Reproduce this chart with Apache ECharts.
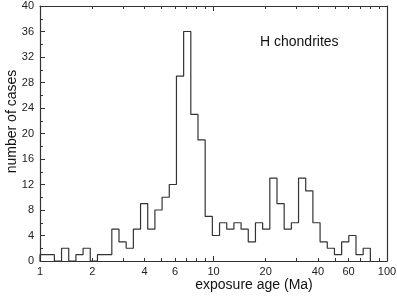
<!DOCTYPE html>
<html>
<head>
<meta charset="utf-8">
<script src="https://cdn.jsdelivr.net/npm/echarts@6/dist/echarts.min.js"></script>
<style>
  html, body { margin: 0; padding: 0; background: #fff; }
  #chart { width: 397px; height: 297px; }
</style>
</head>
<body>
<div id="chart"></div>
<script>
  // histogram bins grow by a factor 1.1, starting at 1 Ma
  let binStart = 1;
  let binRatio = 1.1;
  let counts = [1, 1, 0, 2, 0, 1, 2, 0, 1, 1,
                5, 3, 2, 5, 9, 5, 8, 10, 12, 29,
                36, 23, 19, 7, 4, 6, 5, 6, 5, 3,
                6, 5, 13, 9, 5, 6, 13, 11, 6, 3,
                2, 1, 3, 4, 1, 2];
  let xLabels = [1, 2, 4, 6, 10, 20, 40, 60, 100];
  let xMajorTicks = [1, 10, 100];
  let xMinorTicks = [2, 3, 4, 5, 6, 7, 8, 9, 20, 30, 40, 50, 60, 70, 80, 90];

  let dom = document.getElementById('chart');
  let myChart = echarts.init(dom, null, { renderer: 'canvas' });

  let edges = [];
  for (let i = 0; i <= counts.length; i++) {
    edges.push(binStart * Math.pow(binRatio, i));
  }
  let line = [[edges[0], 0]];
  for (let i = 0; i < counts.length; i++) {
    line.push([edges[i], counts[i]]);
  }
  line.push([edges[counts.length], counts[counts.length - 1]]);
  line.push([edges[counts.length], 0]);

  let font = 'Liberation Sans, Arial, sans-serif';
  let axisColor = '#333';

  function xAxisBase(pos) {
    return {
      type: 'log',
      logBase: 10,
      position: pos,
      min: 1,
      max: 100,
      splitLine: { show: false },
      axisLine: { show: true, onZero: false, lineStyle: { color: axisColor, width: 1.2 } },
      axisLabel: { show: false },
      axisTick: { show: false }
    };
  }

  let xBottom = xAxisBase('bottom');
  xBottom.name = 'exposure age (Ma)';
  xBottom.nameLocation = 'middle';
  xBottom.nameGap = 17;
  xBottom.nameMoveOverlap = false;
  xBottom.nameTextStyle = { fontFamily: font, fontSize: 14, color: '#111', padding: [0, 0, 0, 81] };
  xBottom.axisLabel = { show: true, customValues: xLabels, fontFamily: font, fontSize: 11, color: '#222', margin: 5 };
  xBottom.axisTick = { show: true, inside: true, length: 5, customValues: xMajorTicks, lineStyle: { color: axisColor } };

  let xBottomMinor = xAxisBase('bottom');
  xBottomMinor.axisLine = { show: false, onZero: false };
  xBottomMinor.axisTick = { show: true, inside: true, length: 3, customValues: xMinorTicks, lineStyle: { color: axisColor } };

  let xTop = xAxisBase('top');
  xTop.axisTick = { show: true, inside: true, length: 5, customValues: xMajorTicks, lineStyle: { color: axisColor } };

  let xTopMinor = xAxisBase('top');
  xTopMinor.axisLine = { show: false, onZero: false };
  xTopMinor.axisTick = { show: true, inside: true, length: 3, customValues: xMinorTicks, lineStyle: { color: axisColor } };

  let option = {
    animation: false,
    backgroundColor: '#fff',
    grid: {
      left: 40,
      right: 10,
      top: 6,
      bottom: 36,
      containLabel: false,
      outerBoundsMode: 'none'
    },
    title: {
      text: 'H chondrites',
      left: 255,
      top: 30,
      textStyle: { fontFamily: font, fontSize: 14, fontWeight: 'normal', color: '#111' }
    },
    xAxis: [xBottom, xBottomMinor, xTop, xTopMinor],
    yAxis: [
      {
        type: 'value',
        position: 'left',
        min: 0,
        max: 40,
        interval: 4,
        name: 'number of cases',
        nameLocation: 'middle',
        nameGap: 21,
        nameMoveOverlap: false,
        nameTextStyle: { fontFamily: font, fontSize: 14, color: '#111', padding: [0, 0, 0, 24] },
        splitLine: { show: false },
        axisLine: { show: true, onZero: false, lineStyle: { color: axisColor, width: 1.2 } },
        axisTick: { show: true, inside: true, length: 5, lineStyle: { color: axisColor } },
        minorTick: { show: true, splitNumber: 2, length: 3, lineStyle: { color: axisColor } },
        axisLabel: { fontFamily: font, fontSize: 11, color: '#222', margin: 6 }
      },
      {
        type: 'value',
        position: 'right',
        min: 0,
        max: 40,
        interval: 4,
        splitLine: { show: false },
        axisLine: { show: true, onZero: false, lineStyle: { color: axisColor, width: 1.2 } },
        axisTick: { show: false },
        axisLabel: { show: false }
      }
    ],
    series: [
      {
        type: 'line',
        xAxisIndex: 0,
        yAxisIndex: 0,
        data: line,
        step: 'end',
        symbol: 'none',
        lineStyle: { color: '#333', width: 1.2 }
      }
    ]
  };
  myChart.setOption(option, true);
</script>
</body>
</html>
